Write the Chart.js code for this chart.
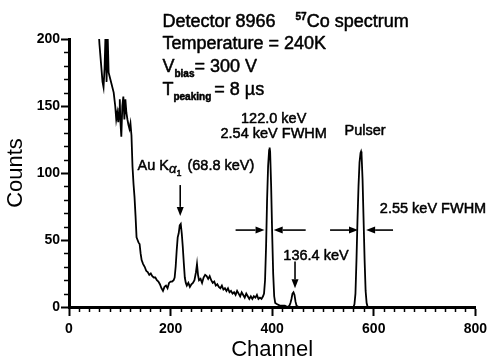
<!DOCTYPE html>
<html>
<head>
<meta charset="utf-8">
<script src="https://cdn.jsdelivr.net/npm/chart.js@4.4.1/dist/chart.umd.min.js"></script>
<style>
  html, body { margin: 0; padding: 0; background: #fff; }
  #wrap { width: 492px; height: 363px; position: relative; }
</style>
</head>
<body>
<div id="wrap"><canvas id="spectrum"></canvas></div>
<script>
// 57Co spectrum, detector 8966
const channels = [
  57, 60, 63, 66, 68, 70, 72, 74, 76, 78, 80, 84, 88, 91, 93, 95, 97, 99, 100, 101,
  103, 105, 107, 109, 111, 113, 115, 117, 119, 121, 123, 125, 127, 129, 131, 133, 135, 137, 139, 141,
  143, 146, 149, 152, 155, 158, 161, 164, 167, 170, 173, 176, 179, 182, 185, 188, 191, 194, 197, 200,
  203, 206, 208, 210, 212, 214, 216, 218, 220, 222, 224, 226, 228, 230, 232, 235, 238, 241, 244, 247,
  250, 252, 254, 256, 259, 262, 265, 268, 271, 274, 277, 280, 283, 286, 289, 292, 295, 298, 301, 304,
  307, 310, 313, 316, 319, 322, 325, 328, 331, 334, 337, 340, 343, 346, 349, 352, 355, 358, 361, 364,
  367, 370, 373, 376, 379, 382, 384, 386, 388, 390, 392, 394, 395, 396, 398, 400, 402, 404, 406, 410,
  415, 420, 425, 430, 434, 436, 438, 440, 442, 444, 446, 448, 452, 480, 520, 560, 562, 564, 566, 568,
  570, 572, 574, 575, 576, 578, 580, 582, 584, 586, 588, 620, 700, 800
];
const counts = [
  215, 196, 182, 168, 164, 178, 205, 168, 205, 175, 172, 166, 160, 150, 140, 145, 138, 148, 155, 140,
  127, 150, 157, 140, 155, 145, 140, 136, 133, 137, 128, 105, 92, 82, 68, 52, 50, 48, 47, 40,
  35, 32, 30, 27, 26, 24, 25, 23, 22, 22, 20, 19, 17, 14, 12, 15, 16, 14, 18, 19,
  19, 20, 22, 30, 42, 52, 55, 61, 62, 55, 45, 33, 22, 18, 16, 18, 15, 17, 18, 20,
  26, 32, 24, 20, 21, 18, 22, 24, 23, 21, 23, 20, 18, 19, 16, 17, 15, 14, 16, 13,
  14, 12, 14, 11, 12, 10, 11, 9, 12, 10, 8, 11, 9, 7, 10, 8, 6, 8, 6, 8,
  7, 9, 6, 7, 6, 8, 10, 20, 45, 80, 105, 117, 119, 116, 90, 55, 25, 8, 3, 2,
  1, 1, 1, 0, 1, 3, 6, 10, 11, 9, 4, 1, 0, 0, 0, 0, 2, 10, 35, 65,
  90, 108, 115, 116, 114, 95, 65, 35, 12, 3, 0, 0, 0, 0
];
const xTicks = [0, 200, 400, 600, 800];
const yTicks = [0, 50, 100, 150, 200];

const FONT = '"Liberation Sans", Arial, sans-serif';

// small ticks between the labelled ones, drawn shorter
const minorTicks = {
  id: 'minorTicks',
  afterDraw(chart) {
    const { ctx, chartArea } = chart;
    const xs = chart.scales.x, ys = chart.scales.y;
    ctx.save();
    ctx.strokeStyle = '#000';
    ctx.lineWidth = 1.5;
    for (let v = 0; v <= 800; v += 20) {
      if (xTicks.includes(v)) continue;
      const x = Math.round(xs.getPixelForValue(v)) + 0.5;
      ctx.beginPath();
      ctx.moveTo(x, chartArea.bottom);
      ctx.lineTo(x, chartArea.bottom + 5);
      ctx.stroke();
    }
    for (let v = 0; v <= 200; v += 10) {
      if (yTicks.includes(v)) continue;
      const y = Math.round(ys.getPixelForValue(v)) + 0.5;
      ctx.beginPath();
      ctx.moveTo(chartArea.left, y);
      ctx.lineTo(chartArea.left - 5, y);
      ctx.stroke();
    }
    ctx.restore();
  }
};

function arrow(ctx, x1, y1, x2, y2) {
  const a = Math.atan2(y2 - y1, x2 - x1);
  const len = 9, w = 3.5;
  ctx.beginPath();
  ctx.moveTo(x1, y1);
  ctx.lineTo(x2 - Math.cos(a) * len, y2 - Math.sin(a) * len);
  ctx.stroke();
  ctx.beginPath();
  ctx.moveTo(x2, y2);
  ctx.lineTo(x2 - Math.cos(a) * len - Math.sin(a) * w, y2 - Math.sin(a) * len + Math.cos(a) * w);
  ctx.lineTo(x2 - Math.cos(a) * len + Math.sin(a) * w, y2 - Math.sin(a) * len - Math.cos(a) * w);
  ctx.closePath();
  ctx.fill();
}

// the scanned original has heavy strokes, so fill and outline a little
function heavyText(ctx, text, x, y) {
  ctx.fillText(text, x, y);
  ctx.strokeText(text, x, y);
}

// draw pieces of text one after another (for sub/superscripts)
function runs(ctx, x, y, parts) {
  for (const p of parts) {
    ctx.font = p.font;
    heavyText(ctx, p.text, x, y + (p.dy || 0));
    x += ctx.measureText(p.text).width + (p.gap || 0);
  }
  return x;
}

const annotations = {
  id: 'annotations',
  afterDatasetsDraw(chart) {
    const { ctx } = chart;
    const xs = chart.scales.x, ys = chart.scales.y;
    const px = c => xs.getPixelForValue(c);
    const py = v => ys.getPixelForValue(v);
    const big = `18px ${FONT}`;
    const mid = `14.5px ${FONT}`;
    ctx.save();
    ctx.fillStyle = '#000';
    ctx.strokeStyle = '#000';
    ctx.lineWidth = 0.5;
    ctx.lineJoin = 'round';
    ctx.textBaseline = 'alphabetic';
    ctx.textAlign = 'left';

    // header block
    const hx = px(184);
    runs(ctx, hx, py(209), [{ text: 'Detector 8966', font: big }]);
    runs(ctx, px(446), py(209), [
      { text: '57', font: `bold 10px ${FONT}`, dy: -7 },
      { text: 'Co spectrum', font: big }
    ]);
    runs(ctx, hx, py(192.5), [{ text: 'Temperature = 240K', font: big }]);
    runs(ctx, hx, py(175.3), [
      { text: 'V', font: big },
      { text: 'bias', font: `bold 10px ${FONT}`, dy: 5 },
      { text: '= 300 V', font: big }
    ]);
    runs(ctx, hx, py(158), [
      { text: 'T', font: big },
      { text: 'peaking', font: `bold 10px ${FONT}`, dy: 5, gap: 3 },
      { text: '= 8 \u00b5s', font: big }
    ]);

    // peak labels
    ctx.font = mid;
    ctx.textAlign = 'center';
    heavyText(ctx, '122.0 keV', px(403), py(137));
    heavyText(ctx, '2.54 keV FWHM', px(403), py(126));
    heavyText(ctx, 'Pulser', px(583), py(128));
    ctx.textAlign = 'left';
    heavyText(ctx, '2.55 keV FWHM', px(612), py(70));
    heavyText(ctx, '136.4 keV', px(422), py(35));
    runs(ctx, px(135), py(102), [
      { text: 'Au K', font: mid },
      { text: '\u03b1', font: `italic 13px ${FONT}`, dy: 3 },
      { text: '1', font: `9px ${FONT}`, dy: 6, gap: 2 },
      { text: ' (68.8 keV)', font: mid }
    ]);

    // arrows
    ctx.lineWidth = 1.6;
    arrow(ctx, px(219), py(91), px(219), py(68));
    arrow(ctx, px(445), py(34), px(445), py(14));
    const half = 57.4;
    arrow(ctx, px(328), py(half), px(385), py(half));
    arrow(ctx, px(466), py(half), px(403), py(half));
    arrow(ctx, px(514), py(half), px(569), py(half));
    arrow(ctx, px(638), py(half), px(585), py(half));
    ctx.restore();
  }
};

new Chart(document.getElementById('spectrum'), {
  type: 'line',
  data: {
    datasets: [{
      data: channels.map((c, i) => ({ x: c, y: counts[i] })),
      borderColor: '#000',
      borderWidth: 1.8,
      pointRadius: 0,
      tension: 0,
      fill: false
    }]
  },
  options: {
    responsive: true,
    maintainAspectRatio: false,
    animation: false,
    devicePixelRatio: 1,
    layout: { padding: { top: 39, right: 14, left: 0, bottom: 0 } },
    plugins: { legend: { display: false }, tooltip: { enabled: false } },
    scales: {
      x: {
        type: 'linear',
        min: 0,
        max: 800,
        afterFit: s => { s.height = 56; },
        afterBuildTicks: s => { s.ticks = xTicks.map(v => ({ value: v })); },
        border: { color: '#000', width: 3 },
        grid: { drawOnChartArea: false, tickLength: 9, tickWidth: 2, tickColor: '#000' },
        ticks: { color: '#000', font: { family: FONT, size: 14, weight: 'bold' }, padding: 5, maxRotation: 0 },
        title: { display: true, text: 'Channel', color: '#000', font: { family: FONT, size: 22 }, padding: { top: 0, bottom: 0 } }
      },
      y: {
        min: 0,
        max: 200,
        afterFit: s => { s.width = 69; },
        afterBuildTicks: s => { s.ticks = yTicks.map(v => ({ value: v })); },
        border: { color: '#000', width: 3 },
        grid: { drawOnChartArea: false, tickLength: 8, tickWidth: 2, tickColor: '#000' },
        ticks: { color: '#000', font: { family: FONT, size: 14, weight: 'bold' }, padding: 1 },
        title: { display: true, text: 'Counts', color: '#000', font: { family: FONT, size: 22 }, padding: { top: 3, bottom: 0 } }
      }
    }
  },
  plugins: [minorTicks, annotations]
});
</script>
</body>
</html>
